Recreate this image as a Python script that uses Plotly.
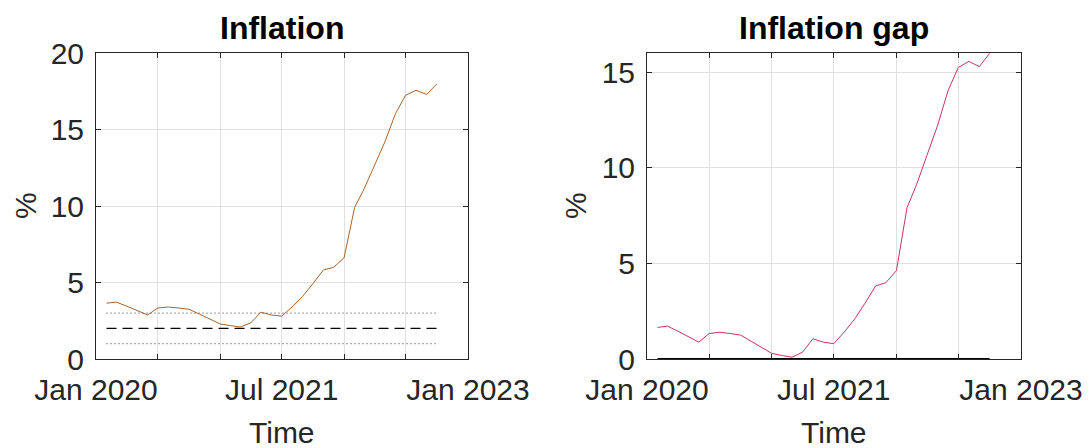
import pandas as pd
import plotly.graph_objects as go

# Monthly observations, Feb 2020 - Oct 2022
months = pd.date_range("2020-02-01", "2022-10-01", freq="MS")

inflation = [3.65, 3.72, 3.45, 3.17, 2.88, 3.33, 3.40, 3.33, 3.25, 2.93, 2.61,
             2.29, 2.18, 2.09, 2.36, 3.06, 2.88, 2.80, 3.41, 4.10, 4.92, 5.82, 5.99,
             6.62, 9.91, 11.12, 12.68, 14.18, 16.02, 17.24, 17.56, 17.29, 17.98]

inflation_gap = [1.65, 1.72, 1.45, 1.17, 0.88, 1.33, 1.40, 1.33, 1.25, 0.93, 0.61,
                 0.29, 0.18, 0.09, 0.36, 1.06, 0.88, 0.80, 1.41, 2.10, 2.92, 3.82, 3.99,
                 4.62, 7.91, 9.12, 10.68, 12.18, 14.02, 15.24, 15.56, 15.29, 15.98]

target = 2.0
band_low = 1.0
band_high = 3.0

x_tickvals = ["2020-01-01", "2020-07-01", "2021-01-01", "2021-07-01",
              "2022-01-01", "2022-07-01", "2023-01-01"]
x_ticktext = ["Jan 2020", "", "", "Jul 2021", "", "", "Jan 2023"]

W, H = 1091, 448
FONT = "Liberation Sans, Arial, sans-serif"
AXC = "#262626"
GRIDC = "#e0e0e0"

fig = go.Figure()

# Left panel: inflation with target and tolerance band
fig.add_trace(go.Scatter(x=months, y=[band_high] * len(months), mode="lines",
                         line=dict(color="#333333", width=1, dash="1px,3px"),
                         xaxis="x", yaxis="y", hoverinfo="skip"))
fig.add_trace(go.Scatter(x=months, y=[band_low] * len(months), mode="lines",
                         line=dict(color="#333333", width=1, dash="1px,3px"),
                         xaxis="x", yaxis="y", hoverinfo="skip"))
fig.add_trace(go.Scatter(x=months, y=[target] * len(months), mode="lines",
                         line=dict(color="black", width=1.3, dash="10px,6px"),
                         xaxis="x", yaxis="y", hoverinfo="skip"))
fig.add_trace(go.Scatter(x=months, y=inflation, mode="lines",
                         line=dict(color="#a8632b", width=1),
                         xaxis="x", yaxis="y"))

# Right panel: inflation gap with zero reference
fig.add_trace(go.Scatter(x=months, y=[0] * len(months), mode="lines",
                         line=dict(color="black", width=2),
                         xaxis="x2", yaxis="y2", hoverinfo="skip"))
fig.add_trace(go.Scatter(x=months, y=inflation_gap, mode="lines",
                         line=dict(color="#c8336a", width=1),
                         xaxis="x2", yaxis="y2"))

ydom = [1 - 359 / H, 1 - 53 / H]
left_dom = [96 / W, 468 / W]
right_dom = [647 / W, 1021 / W]

common_axis = dict(showline=True, linecolor=AXC, linewidth=1, mirror="ticks",
                   ticks="inside", ticklen=5, tickcolor=AXC, showgrid=True,
                   gridcolor=GRIDC, gridwidth=1, zeroline=False, automargin=False,
                   tickfont=dict(family=FONT, size=30, color=AXC))

xcommon = dict(common_axis, type="date", range=["2020-01-01", "2023-01-01"],
               tickmode="array", tickvals=x_tickvals, ticktext=x_ticktext,
               ticklabelstandoff=4)

fig.update_layout(
    width=W, height=H,
    margin=dict(l=0, r=0, t=0, b=0),
    paper_bgcolor="white", plot_bgcolor="white",
    showlegend=False,
    xaxis=dict(xcommon, domain=left_dom, anchor="y"),
    yaxis=dict(common_axis, domain=ydom, range=[0, 20], tickvals=[0, 5, 10, 15, 20],
               anchor="x", ticklabelstandoff=5),
    xaxis2=dict(xcommon, domain=right_dom, anchor="y2"),
    yaxis2=dict(common_axis, domain=ydom, range=[0, 16], tickvals=[0, 5, 10, 15],
                anchor="x2", ticklabelstandoff=5),
)

annotations = [
    dict(text="<b>Inflation</b>", x=(left_dom[0] + left_dom[1]) / 2, y=1 - 28 / H),
    dict(text="<b>Inflation gap</b>", x=(right_dom[0] + right_dom[1]) / 2, y=1 - 28 / H),
]
for a in annotations:
    fig.add_annotation(xref="paper", yref="paper", showarrow=False,
                       xanchor="center", yanchor="middle",
                       font=dict(family=FONT, size=32, color="black"), **a)

for xc in [(left_dom[0] + left_dom[1]) / 2, (right_dom[0] + right_dom[1]) / 2]:
    fig.add_annotation(text="Time", xref="paper", yref="paper", x=xc, y=1 - 432 / H,
                       showarrow=False, xanchor="center", yanchor="middle",
                       font=dict(family=FONT, size=30, color=AXC))

for xp in [25, 575]:
    fig.add_annotation(text="%", xref="paper", yref="paper", x=xp / W,
                       y=(ydom[0] + ydom[1]) / 2, textangle=-90, showarrow=False,
                       xanchor="center", yanchor="middle",
                       font=dict(family=FONT, size=30, color=AXC))

fig.write_html("out.html")
